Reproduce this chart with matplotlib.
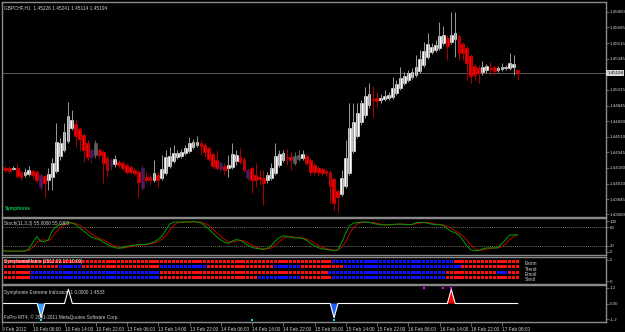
import matplotlib
matplotlib.use('Agg')
import matplotlib.pyplot as plt
import matplotlib.transforms as mtransforms
import numpy as np

# ---- data (GBPCHF H1, 9-17 Feb 2012) ----
opens = [1.44188, 1.44177, 1.44177, 1.44167, 1.44177, 1.44135, 1.44103, 1.44113, 1.44145, 1.44135,
         1.44103, 1.44092, 1.44049, 1.44081, 1.44145, 1.44306, 1.44370, 1.44466, 1.44605, 1.44648,
         1.44595, 1.44530, 1.44445, 1.44370, 1.44317, 1.44370, 1.44349, 1.44284, 1.44263, 1.44220,
         1.44242, 1.44231, 1.44210, 1.44188, 1.44156, 1.44135, 1.44177, 1.44081, 1.44081, 1.44049,
         1.44103, 1.44071, 1.44124, 1.44199, 1.44252, 1.44295, 1.44306, 1.44338, 1.44359, 1.44402,
         1.44424, 1.44445, 1.44424, 1.44391, 1.44327, 1.44263, 1.44231, 1.44199, 1.44177, 1.44188,
         1.44252, 1.44295, 1.44274, 1.44156, 1.44177, 1.44103, 1.44081, 1.44071, 1.44049, 1.44071,
         1.44124, 1.44210, 1.44263, 1.44295, 1.44295, 1.44231, 1.44274, 1.44284, 1.44306, 1.44263,
         1.44210, 1.44177, 1.44167, 1.44145, 1.44135, 1.44060, 1.43931, 1.43899, 1.43985, 1.44124,
         1.44359, 1.44520, 1.44670, 1.44745, 1.44852, 1.44916, 1.44926, 1.44905, 1.44916, 1.44926,
         1.44937, 1.44980, 1.45034, 1.45087, 1.45119, 1.45151, 1.45173, 1.45215, 1.45280, 1.45365,
         1.45419, 1.45440, 1.45461, 1.45515, 1.45568, 1.45526, 1.45558, 1.45590, 1.45504, 1.45461,
         1.45376, 1.45269, 1.45247, 1.45205, 1.45226, 1.45247, 1.45258, 1.45226, 1.45237, 1.45247,
         1.45247, 1.45258, 1.45226]
highs = [1.44210, 1.44199, 1.44199, 1.44199, 1.44231, 1.44156, 1.44177, 1.44199, 1.44167, 1.44156,
         1.44124, 1.44113, 1.44177, 1.44284, 1.44659, 1.44498, 1.44659, 1.44884, 1.44798, 1.44691,
         1.44616, 1.44552, 1.44477, 1.44391, 1.44477, 1.44391, 1.44370, 1.44306, 1.44284, 1.44317,
         1.44263, 1.44252, 1.44231, 1.44210, 1.44177, 1.44156, 1.44210, 1.44135, 1.44103, 1.44263,
         1.44135, 1.44317, 1.44370, 1.44402, 1.44424, 1.44370, 1.44381, 1.44424, 1.44509, 1.44488,
         1.44520, 1.44477, 1.44445, 1.44413, 1.44349, 1.44370, 1.44252, 1.44231, 1.44317, 1.44445,
         1.44370, 1.44391, 1.44295, 1.44177, 1.44199, 1.44231, 1.44156, 1.44156, 1.44135, 1.44231,
         1.44445, 1.44370, 1.44370, 1.44381, 1.44349, 1.44349, 1.44370, 1.44370, 1.44327, 1.44284,
         1.44231, 1.44199, 1.44188, 1.44167, 1.44156, 1.44081, 1.43953, 1.44156, 1.44477, 1.44873,
         1.44873, 1.44873, 1.44905, 1.45044, 1.45087, 1.45055, 1.44991, 1.44969, 1.45012, 1.44991,
         1.45151, 1.45119, 1.45258, 1.45205, 1.45226, 1.45247, 1.45387, 1.45440, 1.45526, 1.45622,
         1.45515, 1.45547, 1.45740, 1.45697, 1.45600, 1.45847, 1.45847, 1.45611, 1.45526, 1.45483,
         1.45397, 1.45290, 1.45280, 1.45322, 1.45290, 1.45312, 1.45280, 1.45269, 1.45301, 1.45280,
         1.45408, 1.45387, 1.45241]
lows = [1.44145, 1.44135, 1.44124, 1.44156, 1.44071, 1.44049, 1.44081, 1.44092, 1.44071, 1.44017,
        1.43942, 1.43867, 1.43942, 1.43942, 1.44124, 1.44263, 1.44349, 1.44445, 1.44584, 1.44402,
        1.44370, 1.44242, 1.44263, 1.44231, 1.44284, 1.44284, 1.44017, 1.44081, 1.44156, 1.44188,
        1.44177, 1.44156, 1.44113, 1.44113, 1.44092, 1.43867, 1.43942, 1.44028, 1.43996, 1.44028,
        1.43974, 1.44049, 1.44103, 1.44177, 1.44231, 1.44274, 1.44284, 1.44317, 1.44338, 1.44381,
        1.44402, 1.44317, 1.44295, 1.44252, 1.44177, 1.44156, 1.44135, 1.44103, 1.44081, 1.44167,
        1.44210, 1.44220, 1.44135, 1.44049, 1.43910, 1.43974, 1.43996, 1.43781, 1.44017, 1.44049,
        1.44103, 1.44188, 1.44242, 1.44210, 1.44156, 1.44210, 1.44252, 1.44263, 1.44210, 1.44103,
        1.44103, 1.44092, 1.44103, 1.44092, 1.43803, 1.43728, 1.43707, 1.43878, 1.43964, 1.44103,
        1.44338, 1.44498, 1.44638, 1.44712, 1.44819, 1.44723, 1.44830, 1.44873, 1.44894, 1.44905,
        1.44916, 1.44959, 1.45012, 1.45066, 1.45098, 1.45130, 1.45151, 1.45194, 1.45258, 1.45344,
        1.45397, 1.45419, 1.45440, 1.45494, 1.45333, 1.45504, 1.45365, 1.45333, 1.45333, 1.45119,
        1.45087, 1.45119, 1.45087, 1.45173, 1.45194, 1.45173, 1.45173, 1.45205, 1.45215, 1.45226,
        1.45226, 1.45173, 1.45114]
closes = [1.44167, 1.44156, 1.44145, 1.44177, 1.44092, 1.44081, 1.44135, 1.44156, 1.44103, 1.44049,
          1.43974, 1.44017, 1.44113, 1.44231, 1.44456, 1.44445, 1.44563, 1.44734, 1.44691, 1.44520,
          1.44488, 1.44370, 1.44295, 1.44295, 1.44445, 1.44317, 1.44231, 1.44156, 1.44199, 1.44274,
          1.44210, 1.44177, 1.44135, 1.44135, 1.44124, 1.44028, 1.43964, 1.44049, 1.44049, 1.44124,
          1.44049, 1.44167, 1.44295, 1.44306, 1.44338, 1.44338, 1.44349, 1.44391, 1.44445, 1.44456,
          1.44456, 1.44413, 1.44349, 1.44274, 1.44199, 1.44177, 1.44167, 1.44156, 1.44210, 1.44327,
          1.44317, 1.44242, 1.44156, 1.44071, 1.44049, 1.44049, 1.44060, 1.44017, 1.44103, 1.44177,
          1.44306, 1.44327, 1.44338, 1.44284, 1.44263, 1.44306, 1.44317, 1.44327, 1.44231, 1.44135,
          1.44135, 1.44135, 1.44124, 1.44124, 1.43985, 1.43803, 1.43867, 1.44071, 1.44284, 1.44605,
          1.44670, 1.44766, 1.44873, 1.44948, 1.44969, 1.44905, 1.44894, 1.44926, 1.44948, 1.44959,
          1.45034, 1.45077, 1.45141, 1.45162, 1.45194, 1.45205, 1.45258, 1.45344, 1.45429, 1.45504,
          1.45472, 1.45494, 1.45590, 1.45600, 1.45483, 1.45600, 1.45622, 1.45408, 1.45408, 1.45301,
          1.45162, 1.45173, 1.45194, 1.45258, 1.45269, 1.45237, 1.45215, 1.45247, 1.45258, 1.45258,
          1.45301, 1.45290, 1.45194]
purple_bars = [10, 23, 28, 36, 56, 63]
dim_bars = [24, 75, 76]

price_ticks = [1.45850, 1.45685, 1.45515, 1.45345, 1.45015, 1.44845, 1.44680,
               1.44510, 1.44345, 1.44180, 1.44010, 1.43845, 1.43680]

time_tick_bars = [0, 8, 16, 24, 32, 40, 48, 56, 64, 72, 80, 88, 96, 104, 112, 120, 128]
time_labels = ['9 Feb 2012', '10 Feb 06:00', '10 Feb 14:00', '10 Feb 22:00', '13 Feb 06:00',
               '13 Feb 14:00', '13 Feb 22:00', '14 Feb 06:00', '14 Feb 14:00', '14 Feb 22:00',
               '15 Feb 06:00', '15 Feb 14:00', '15 Feb 22:00', '16 Feb 06:00', '16 Feb 14:00',
               '16 Feb 22:00', '17 Feb 06:00']

stoch_main = [3, 3, 3, 3, 3, 3, 3, 10, 30, 50, 35, 33, 40, 70, 82, 88, 92, 95, 94, 88,
              78, 68, 58, 48, 44, 40, 32, 25, 18, 14, 12, 14, 18, 20, 22, 24, 24, 25, 28, 32,
              40, 50, 70, 90, 96, 97, 96, 97, 97, 98, 97, 94, 85, 75, 62, 50, 40, 32, 28, 35,
              40, 38, 30, 22, 15, 12, 10, 8, 12, 20, 35, 45, 52, 50, 48, 45, 45, 44, 38, 28,
              20, 14, 10, 8, 6, 5, 6, 30, 60, 85, 93, 95, 96, 97, 96, 92, 90, 88, 87, 88,
              89, 90, 90, 89, 88, 89, 95, 96, 95, 93, 90, 88, 88, 86, 75, 67, 62, 55, 38, 20,
              8, 4, 5, 10, 13, 13, 13, 14, 28, 40, 55, 55, 55]
stoch_signal = [3, 3, 3, 3, 3, 3, 3, 5, 14, 30, 38, 39, 36, 48, 64, 80, 87, 92, 94, 92,
                87, 78, 68, 58, 50, 44, 39, 32, 25, 19, 15, 13, 15, 17, 20, 22, 23, 24, 26, 28,
                33, 41, 53, 70, 85, 94, 96, 97, 97, 97, 97, 96, 92, 85, 74, 62, 51, 41, 33, 32,
                34, 38, 36, 30, 22, 16, 12, 10, 10, 13, 22, 33, 44, 49, 50, 48, 46, 45, 42, 37,
                29, 21, 15, 11, 8, 6, 6, 14, 32, 58, 79, 91, 95, 96, 96, 95, 93, 90, 88, 88,
                88, 89, 90, 90, 89, 89, 91, 93, 95, 95, 93, 90, 89, 87, 83, 76, 68, 61, 52, 38,
                22, 11, 6, 6, 9, 12, 13, 13, 18, 27, 41, 50, 55]

# SymphonieMatrix rows as (colour, run length)
matrix_names = ['Extrm', 'Trend', 'Emotl', 'Sentl']
extrm_runs = [('r', 85), ('b', 31), ('r', 17)]
trend_runs = [('r', 15), ('b', 6), ('r', 20), ('b', 12), ('r', 17), ('b', 7), ('r', 11), ('b', 30), ('r', 15)]
emotl_runs = [('r', 8), ('b', 33), ('r', 43), ('b', 30), ('r', 13), ('b', 3), ('r', 3)]
sentl_runs = [('r', 8), ('b', 33), ('r', 25), ('b', 11), ('r', 8), ('b', 29), ('r', 19)]

# Symphonie Extreme spikes
spike_bars = [10, 17, 85, 115]
spike_vals = [-1.1, 1.1, -1.1, 1.1]
spike_fill = ['#3aa0ff', None, '#1f5fff', '#ff0000']
buy_dots = [10, 64, 85]
sell_dots = [108, 113, 115]

# ---- layout ----
W, H = 625, 332
fig = plt.figure(figsize=(W / 100, H / 100), dpi=100)
fig.patch.set_facecolor('black')
FONT = 'Liberation Sans'
FS = 3.4
GRID = '#8a8a8a'
TXT = '#d0d0d0'

n = len(opens)
idx = np.arange(n)
x_lim = (0.13, 154.6)


def panel(x0, y0, x1, y1):
    ax = fig.add_axes([x0 / W, 1 - y1 / H, (x1 - x0) / W, (y1 - y0) / H])
    ax.set_facecolor('black')
    for s in ax.spines.values():
        s.set_color(GRID)
        s.set_linewidth(1.0)
    ax.yaxis.tick_right()
    ax.tick_params(axis='y', colors=GRID, labelcolor=TXT, labelsize=3.2, length=2,
                   width=0.5, pad=0.6)
    ax.tick_params(axis='x', bottom=False, labelbottom=False)
    ax.set_xlim(*x_lim)
    return ax


# ── main price panel ────────────────────────────────────────────────
ax = panel(2, 2, 606, 217)
ax.set_ylim(1.43653, 1.45954)
o = np.array(opens); c = np.array(closes)
hi = np.array(highs); lo = np.array(lows)
bull = c >= o
body_col = np.where(bull, '#ffffff', '#ff0000').astype(object)
wick_col = np.where(bull, '#9a9a9a', '#b00000').astype(object)
for i in purple_bars:
    body_col[i] = '#4a1a5a'; wick_col[i] = '#4a1a5a'
for i in dim_bars:
    body_col[i] = '#606060'; wick_col[i] = '#606060'
ax.vlines(idx, lo, hi, colors=list(wick_col), linewidth=0.7)
ax.bar(idx, c - o, bottom=o, width=0.72, color=list(body_col),
       edgecolor=list(body_col), linewidth=0.4)
ax.axhline(closes[-1], color='#5a5a5a', linewidth=0.7, zorder=0)
ax.set_yticks(price_ticks)
ax.set_yticklabels([f'{p:.5f}' for p in price_ticks], fontfamily=FONT)
trans = mtransforms.blended_transform_factory(ax.transAxes, ax.transData)
ax.text(1.002, closes[-1], f'{closes[-1]:.5f}', transform=trans, fontsize=3.2,
        fontfamily=FONT, color='black', va='center', ha='left',
        bbox=dict(boxstyle='square,pad=0.25', fc='#d8d8d8', ec='none'))
ax.text(0.003, 0.985, f'GBPCHF,H1  {opens[-1]:.5f} {highs[-1]:.5f} {lows[-1]:.5f} {closes[-1]:.5f}',
        transform=ax.transAxes, fontsize=FS, fontfamily=FONT, color=TXT, va='top')
ax.text(0.004, 0.03, 'Symphonie', transform=ax.transAxes, fontsize=FS,
        fontfamily=FONT, color='#00c050', fontweight='bold', va='bottom')

# ── stochastic panel ────────────────────────────────────────────────
ax2 = panel(2, 218, 606, 255)
ax2.set_ylim(-9.7, 109.7)
ax2.axhline(80, color='#9a9a80', linestyle=(0, (1.5, 1.5)), linewidth=0.5)
ax2.axhline(20, color='#9a9a80', linestyle=(0, (1.5, 1.5)), linewidth=0.5)
ax2.plot(idx, stoch_signal, color='#c00000', linewidth=0.7)
ax2.plot(idx, stoch_main, color='#00a000', linewidth=0.7)
ax2.set_yticks([100, 80, 20, 0])
ax2.set_yticklabels(['100', '80', '20', '0'], fontfamily=FONT)
ax2.text(0.003, 0.93, f'Stoch(11,3,3) {stoch_main[-1]:.4f} {stoch_signal[-1]:.4f}',
         transform=ax2.transAxes, fontsize=FS, fontfamily=FONT, color=TXT, va='top')

# ── SymphonieMatrix panel ───────────────────────────────────────────
ax3 = panel(2, 257, 606, 284)
ax3.set_ylim(-0.71, 5.71)
row_levels = [4.7, 3.4, 2.1, 0.9]
col_map = {'r': '#ff1010', 'b': '#1010ff'}
for runs, lvl, name in zip([extrm_runs, trend_runs, emotl_runs, sentl_runs], row_levels, matrix_names):
    cols = [col_map[k] for k, cnt in runs for _ in range(cnt)]
    ax3.scatter(idx, np.full(n, lvl), marker='s', s=5, c=cols, linewidths=0)
    ax3.text(n + 0.8, lvl - 0.6, name, fontsize=FS, fontfamily=FONT, color=TXT, va='center')
ax3.set_yticks([5, 0])
ax3.set_yticklabels(['5', '0'], fontfamily=FONT)
ax3.text(0.003, 0.93, 'SymphonieMatrix (2012.02.17 10:00)', transform=ax3.transAxes,
         fontsize=FS, fontfamily=FONT, color='white', va='top')

# ── Symphonie Extreme panel ─────────────────────────────────────────
ax4 = panel(2, 285, 606, 322)
ax4.set_ylim(-1.43, 1.43)
ext = np.zeros(n)
for b, v in zip(spike_bars, spike_vals):
    ext[b] = v
for b, v, fc in zip(spike_bars, spike_vals, spike_fill):
    if fc:
        ax4.fill([b - 1, b, b + 1], [0, v, 0], color=fc, linewidth=0)
ax4.plot(idx, ext, color='white', linewidth=0.8)
ax4.plot(buy_dots, [-1.3] * len(buy_dots), 's', color='#00e5ff', markersize=1.8, markeredgewidth=0)
ax4.plot(sell_dots, [1.2] * len(sell_dots), 's', color='#ff00ff', markersize=1.8, markeredgewidth=0)
ax4.set_yticks([1.2, 0, -1.2])
ax4.set_yticklabels(['1.2', '0.00', '-1.2'], fontfamily=FONT)
ax4.text(0.003, 0.86, 'Symphonie Extreme Indicator -1 0.0000 1.4533', transform=ax4.transAxes,
         fontsize=FS, fontfamily=FONT, color=TXT, va='top')
ax4.text(0.003, 0.06, 'FxPro MT4, \u00a9 2001-2011 MetaQuotes Software Corp.', transform=ax4.transAxes,
         fontsize=FS, fontfamily=FONT, color=TXT, va='bottom')
ax4.set_xticks(time_tick_bars)
ax4.set_xticklabels(time_labels, fontfamily=FONT)
ax4.tick_params(axis='x', bottom=True, labelbottom=True, colors=GRID, labelcolor=TXT,
                labelsize=FS, length=3, width=0.5, pad=0.5)
for lbl in ax4.get_xticklabels():
    lbl.set_ha('left')

fig.savefig('out.png', dpi=100, facecolor='black')
